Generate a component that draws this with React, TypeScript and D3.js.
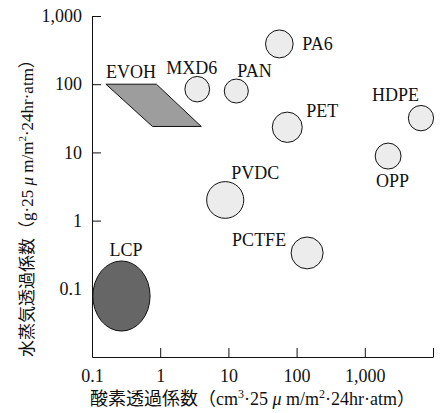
import React, { useRef, useEffect } from 'react';
import * as d3 from 'd3';

// ranges (oxygen: cm3·25μm/m2·24hr·atm, water vapour: g·25μm/m2·24hr·atm)
const materials = ['MXD6', 'PA6', 'PAN', 'PET', 'HDPE', 'OPP', 'PVDC', 'PCTFE', 'LCP'];
const oxygenLow = [2.3, 35, 8.7, 44, 4350, 1420, 4.8, 83, 0.103];
const oxygenHigh = [5.3, 89, 19.6, 121, 10200, 3400, 16.8, 245, 0.71];
const waterLow = [55, 243, 53, 14, 20.7, 5.7, 1.08, 0.196, 0.024];
const waterHigh = [130, 624, 119, 39, 48.8, 13.7, 3.73, 0.575, 0.256];

// EVOH band (parallelogram corners)
const evohOxygen = [0.16, 0.88, 4.0, 0.77];
const evohWater = [100, 100, 24, 24];

const xTicks = [0.1, 1, 10, 100, 1000, 10000];
const yTicks = [0.1, 1, 10, 100, 1000];

// label placement relative to shape centre
const labelOffset = {
    MXD6: [-31, -15], PA6: [23, 6], PAN: [1, -14], PET: [19, -10], HDPE: [-49, -17],
    OPP: [-12, 31], PVDC: [6, -21], PCTFE: [-75, -7], LCP: [-12, -40],
};

export default function App() {
    const svgRef = useRef(null);
    const width = 441;
    const height = 413;
    const margin = { top: 16, right: 8, bottom: 56, left: 92 };

    useEffect(() => {
        const svg = d3.select(svgRef.current);
        svg.selectAll('*').remove();

        const font = 'Liberation Serif, DejaVu Serif, serif';
        const cjk = 'Liberation Serif, Noto Sans CJK JP, serif';
        const fs = '18px';

        const x = d3.scaleLog()
            .domain([0.1, 10000])
            .range([margin.left, width - margin.right]);

        const y = d3.scaleLog()
            .domain([0.01, 1000])
            .range([height - margin.bottom, margin.top]);

        const fmt = d3.format(',');

        // x axis
        svg.append('g')
            .attr('transform', `translate(0,${height - margin.bottom})`)
            .attr('color', '#111')
            .call(
                d3.axisBottom(x)
                    .tickValues(xTicks)
                    .tickFormat(d => (d === 10000 ? '' : fmt(d)))
                    .tickSize(-9)
                    .tickSizeOuter(0)
                    .tickPadding(12)
            )
            .call(g => g.attr('font-family', null).attr('font-size', null))
            .call(g => g.selectAll('.tick text')
                .style('font-size', fs)
                .style('font-family', font)
            );

        // y axis
        svg.append('g')
            .attr('transform', `translate(${margin.left},0)`)
            .attr('color', '#111')
            .call(
                d3.axisLeft(y)
                    .tickValues(yTicks)
                    .tickFormat(d => fmt(d))
                    .tickSize(-9)
                    .tickSizeOuter(0)
                    .tickPadding(10)
            )
            .call(g => g.attr('font-family', null).attr('font-size', null))
            .call(g => g.selectAll('.tick text')
                .style('font-size', fs)
                .style('font-family', font)
            );

        // EVOH
        const evohPts = evohOxygen.map((o, i) => [x(o), y(evohWater[i])]);
        svg.append('path')
            .attr('d', d3.line()(evohPts) + 'Z')
            .attr('fill', '#9d9d9d')
            .attr('stroke', '#111')
            .attr('stroke-width', 1);
        svg.append('text')
            .attr('x', evohPts[0][0])
            .attr('y', evohPts[0][1] - 6)
            .style('font-size', fs)
            .style('font-family', font)
            .attr('fill', '#111')
            .text('EVOH');

        // ellipses for each material range
        const shapes = materials.map((name, i) => {
            const x0 = x(oxygenLow[i]), x1 = x(oxygenHigh[i]);
            const y0 = y(waterLow[i]), y1 = y(waterHigh[i]);
            return { name, cx: (x0 + x1) / 2, cy: (y0 + y1) / 2, rx: (x1 - x0) / 2, ry: (y0 - y1) / 2 };
        });

        svg.append('g')
            .selectAll('ellipse')
            .data(shapes)
            .join('ellipse')
            .attr('cx', d => d.cx)
            .attr('cy', d => d.cy)
            .attr('rx', d => d.rx)
            .attr('ry', d => d.ry)
            .attr('fill', d => (d.name === 'LCP' ? '#666666' : '#ececec'))
            .attr('stroke', '#111')
            .attr('stroke-width', 1);

        svg.append('g')
            .selectAll('text')
            .data(shapes)
            .join('text')
            .attr('x', d => d.cx + labelOffset[d.name][0])
            .attr('y', d => d.cy + labelOffset[d.name][1])
            .style('font-size', fs)
            .style('font-family', font)
            .attr('fill', '#111')
            .text(d => d.name);

        // axis titles
        const xt = svg.append('text')
            .attr('x', 90)
            .attr('y', 405)
            .style('font-size', fs)
            .style('font-family', cjk)
            .attr('fill', '#111');
        xt.append('tspan').text('酸素透過係数（cm');
        xt.append('tspan').style('font-size', '12px').attr('dy', -7).text('3');
        xt.append('tspan').attr('dy', 7).text('·25 ');
        xt.append('tspan').attr('font-style', 'italic').text('μ');
        xt.append('tspan').text(' m/m');
        xt.append('tspan').style('font-size', '12px').attr('dy', -7).text('2');
        xt.append('tspan').attr('dy', 7).text('·24hr·atm）');

        const yt = svg.append('text')
            .attr('transform', 'translate(33,357) rotate(-90)')
            .style('font-size', '17px')
            .style('font-family', cjk)
            .attr('fill', '#111');
        yt.append('tspan').text('水蒸気透過係数（g·25 ');
        yt.append('tspan').attr('font-style', 'italic').text('μ');
        yt.append('tspan').text(' m/m');
        yt.append('tspan').style('font-size', '11px').attr('dy', -7).text('2');
        yt.append('tspan').attr('dy', 7).text('·24hr·atm）');
    }, []);

    return (
        <svg
            ref={svgRef}
            width={width}
            height={height}
            viewBox={`0 0 ${width} ${height}`}
            style={{ position: 'absolute', left: 0, top: 0, background: '#fff' }}
        />
    );
}
